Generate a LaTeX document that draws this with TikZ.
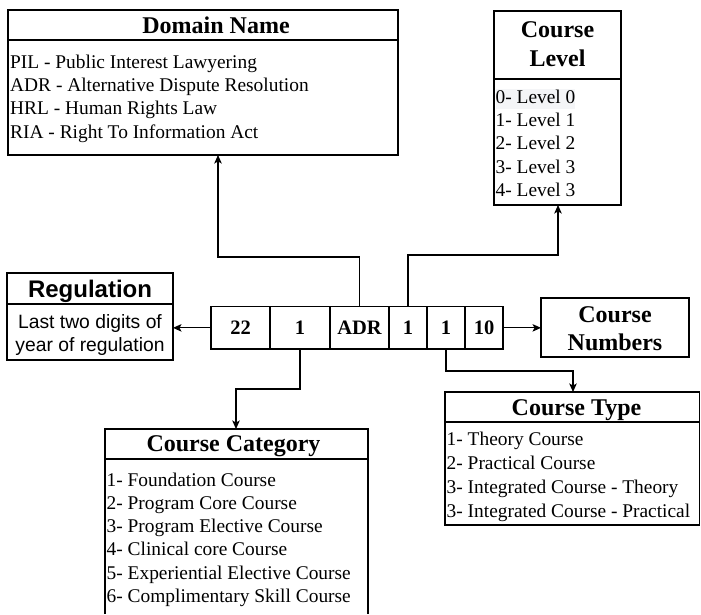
\documentclass[tikz,border=0pt]{standalone}
\usepackage{fontspec}
\setmainfont{Liberation Serif}
\newfontfamily\arialfont{Liberation Sans}
\usetikzlibrary{arrows.meta}
\definecolor{hl}{RGB}{244,245,247}
\begin{document}
\begin{tikzpicture}[x=1pt,y=-1pt,
 box/.style={draw=black, line width=1.3pt, inner sep=0pt, outer sep=0pt, anchor=north west},
 hdr/.style={font=\fontsize{24}{28.8}\selectfont\bfseries, inner sep=0pt, anchor=base},
 shdr/.style={font=\fontsize{24}{28.8}\selectfont\arialfont\bfseries, inner sep=0pt, anchor=base},
 itm/.style={font=\fontsize{19.4}{23.3}\selectfont, inner sep=0pt, anchor=base west},
 sitm/.style={font=\fontsize{19.3}{23}\selectfont\arialfont, inner sep=0pt, anchor=base},
 cell/.style={draw=black, line width=1.3pt, minimum height=42.3pt, inner sep=0pt, outer sep=0pt, anchor=north west, font=\fontsize{20.5}{23}\selectfont\bfseries},
 conn/.style={line width=1.2pt, -{Stealth[length=8.5pt,width=7.5pt,inset=2pt]}},
]
\useasboundingbox (0,0) rectangle (701,614);

% Domain Name
\node[box, minimum width=390pt, minimum height=30pt] (domh) at (8,10) {};
\node[box, minimum width=390pt, minimum height=115pt] (domb) at (8,40) {};
\node[hdr] (domt) at (216,33.3) {Domain Name};
\foreach \t [count=\i from 0] in {PIL - Public Interest Lawyering, ADR - Alternative Dispute Resolution, HRL - Human Rights Law, RIA - Right To Information Act}
  \node[itm] (dom\i) at (10,68.3+23.3*\i) {\t};

% Course Level
\node[box, minimum width=127pt, minimum height=68pt] (levh) at (494,11) {};
\node[box, minimum width=127pt, minimum height=126pt] (levb) at (494,79) {};
\node[hdr] (levt1) at (557.5,37.3) {Course};
\node[hdr] (levt2) at (557.5,66.7) {Level};
\node[itm, fill=hl, text depth=5pt, inner ysep=0.8pt] (lev0) at (495.5,103.3) {0- Level 0};
\foreach \t [count=\i from 1] in {1- Level 1, 2- Level 2, 3- Level 3, 4- Level 3}
  \node[itm] (lev\i) at (495.5,103.3+23.3*\i) {\t};

% Regulation
\node[box, minimum width=166pt, minimum height=31pt] (regh) at (7,273) {};
\node[box, minimum width=166pt, minimum height=56pt] (regb) at (7,304) {};
\node[shdr] (regt) at (90,297.3) {Regulation};
\node[sitm] (reg1) at (90,328.5) {Last two digits of};
\node[sitm] (reg2) at (90,351) {year of regulation};

% Code cells
\node[cell, minimum width=59pt] (c1) at (211,306.7) {22};
\node[cell, minimum width=60pt] (c2) at (270,306.7) {1};
\node[cell, minimum width=59pt] (c3) at (330,306.7) {ADR};
\node[cell, minimum width=38pt] (c4) at (389,306.7) {1};
\node[cell, minimum width=38pt] (c5) at (427,306.7) {1};
\node[cell, minimum width=38pt] (c6) at (465,306.7) {10};

% Course Numbers
\node[box, minimum width=148pt, minimum height=59pt] (numb) at (541,298) {};
\node[hdr] (numt1) at (615,322.7) {Course};
\node[hdr] (numt2) at (615,350.7) {Numbers};

% Course Category
\node[box, minimum width=263pt, minimum height=30pt] (cath) at (105,429) {};
\node[inner sep=0pt, outer sep=0pt, anchor=north west, minimum width=263pt, minimum height=155pt] (catb) at (105,459) {};
\draw[line width=1.3pt] (catb.south west) -- (catb.north west) (catb.north east) -- (catb.south east);
\node[hdr] (catt) at (233.5,451) {Course Category};
\foreach \t [count=\i from 0] in {1- Foundation Course, 2- Program Core Course, 3- Program Elective Course, 4- Clinical core Course, 5- Experiential Elective Course, 6- Complimentary Skill Course}
  \node[itm] (cat\i) at (106.5,486+23.3*\i) {\t};

% Course Type
\node[box, minimum width=254.5pt, minimum height=30pt] (typh) at (445,392) {};
\node[box, minimum width=254.5pt, minimum height=103pt] (typb) at (445,422) {};
\node[hdr] (typt) at (576.5,415.7) {Course Type};
\foreach \t [count=\i from 0] in {1- Theory Course, 2- Practical Course, 3- Integrated Course - Theory, 3- Integrated Course - Practical}
  \node[itm] (typ\i) at (446.5,445+24.1*\i) {\t};

% connectors
\coordinate (k1) at (218,257);
\coordinate (k2) at (558,255);
\coordinate (k5) at (236,389);
\coordinate (k6) at (573,371);
\draw[conn] (c3.north) |- (k1) -- (k1 |- domb.south);
\draw[conn] (c4.north) |- (k2) -- (k2 |- levb.south);
\draw[conn] (c1.west) -- (regb.east |- c1.west);
\draw[conn] (c6.east) -- (numb.west |- c6.east);
\draw[conn] (c2.south) |- (k5) -- (k5 |- cath.north);
\draw[conn] (c5.south) |- (k6) -- (k6 |- typh.north);
\end{tikzpicture}
\end{document}
